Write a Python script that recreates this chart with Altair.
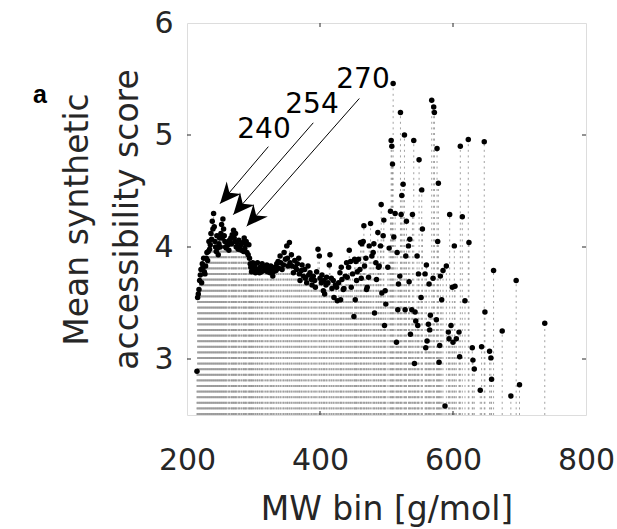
import altair as alt
import pandas as pd

# ---- data ----
mw = [215,216,217,218,219,220,221,222,223,224,225,226,227,228,229,230,231,232,233,234,235,236,237,238,239,240,
      241,242,243,244,245,246,247,248,249,250,251,252,253,254,255,256,257,258,259,260,262,263,264,266,267,268,269,270,
      271,272,273,274,275,277,278,279,281,282,284,285,286,287,288,289,290,292,293,294,295,296,297,298,299,300,
      302,303,305,306,307,309,310,312,313,314,316,318,320,321,323,325,326,327,329,330,332,334,335,337,338,340,
      341,343,345,346,348,350,351,352,354,355,357,358,360,362,363,365,366,368,369,370,372,373,375,377,378,380,
      382,383,385,387,388,390,392,393,395,397,399,400,402,403,405,406,407,409,410,412,414,415,417,418,420,
      421,423,425,426,428,430,431,432,433,435,436,438,440,441,443,444,446,447,449,451,452,453,454,455,456,458,460,
      461,462,463,465,466,467,469,470,471,473,474,476,478,480,481,482,484,485,487,488,489,491,492,493,495,496,497,498,499,
      502,504,506,507,508,509,510,511,513,515,516,517,518,520,521,522,523,525,527,528,529,530,533,534,535,536,538,539,
      541,542,543,544,546,547,548,549,552,553,554,558,559,560,561,563,564,565,566,568,570,571,572,575,576,577,578,579,580,581,583,585,
      588,590,593,594,595,597,599,600,602,603,605,609,610,611,614,618,623,624,629,630,632,641,643,647,648,655,657,658,
      661,674,687,695,700,738]
sa = [2.89,3.55,3.58,3.62,3.70,3.75,3.80,3.68,3.85,3.82,3.90,3.78,3.76,3.83,3.90,3.95,3.88,3.96,4.05,3.98,4.02,4.12,4.07,4.23,4.16,4.30,
      4.18,4.05,4.00,3.96,4.10,3.99,3.93,4.03,4.08,4.00,4.12,4.20,4.08,4.25,4.16,4.10,4.05,4.00,3.99,4.04,4.02,3.97,4.06,4.08,4.03,4.11,4.10,4.15,
      4.08,4.05,4.12,4.00,4.04,3.98,4.06,4.00,4.02,3.97,4.04,3.96,4.08,3.99,4.03,4.05,3.95,3.93,4.02,3.90,3.85,3.82,3.78,3.84,3.86,3.80,
      3.83,3.77,3.80,3.86,3.79,3.77,3.82,3.78,3.85,3.83,3.79,3.81,3.84,3.78,3.80,3.77,3.83,3.80,3.74,3.78,3.82,3.79,3.85,3.87,3.81,3.92,
      3.86,3.80,3.84,3.95,3.89,4.01,3.90,3.83,4.04,3.86,3.93,3.83,3.77,3.88,3.82,3.80,3.85,3.90,3.76,3.70,3.79,3.84,3.74,3.80,3.72,3.68,
      3.83,3.75,3.77,3.71,3.66,3.74,3.70,3.64,3.78,3.98,3.92,3.72,3.68,3.75,3.61,3.70,3.58,3.66,3.73,3.68,3.84,3.93,3.72,3.63,3.70,
      3.55,3.66,3.64,3.52,3.68,3.77,3.53,3.82,3.71,3.62,3.63,3.74,3.86,3.73,3.82,3.97,3.87,3.64,3.76,3.38,3.89,3.53,3.87,3.70,3.78,3.89,3.80,
      4.04,3.72,4.03,4.05,4.19,3.83,3.90,3.62,3.64,3.73,4.01,4.21,3.92,3.95,4.03,3.41,3.86,3.71,4.13,3.82,3.83,4.01,4.38,3.59,4.10,4.24,3.30,3.61,3.49,
      3.82,3.99,4.32,4.95,4.90,4.74,5.46,4.09,4.30,3.15,3.95,3.44,3.67,3.74,5.20,4.29,4.46,4.56,5.00,3.44,3.92,4.23,4.01,3.69,4.07,3.22,3.44,4.29,
      4.95,2.96,3.42,3.34,3.92,3.30,3.76,4.78,3.55,4.51,4.16,3.76,3.10,3.84,3.16,3.31,3.67,3.26,3.39,5.31,3.72,5.25,5.20,3.35,4.88,4.05,4.57,2.97,3.12,3.74,3.53,3.79,
      2.58,3.83,3.24,3.18,4.29,3.30,3.64,3.15,4.01,3.65,3.18,3.24,3.02,4.90,4.27,3.52,4.96,4.04,3.10,2.99,2.91,2.72,3.11,4.94,3.42,3.07,3.01,2.82,
      3.79,3.25,2.67,3.70,2.77,3.32]

ann_labels = ["240", "254", "270"]
ann_text_x = [315.8, 388.0, 464.7]
ann_text_y = [5.044, 5.267, 5.489]
ann_from_x = [322.3, 389.9, 459.1]
ann_from_y = [4.896, 5.109, 5.326]
ann_tip_x = [249.6, 269.6, 289.8]
ann_tip_y = [4.387, 4.289, 4.185]

x_ticks = [200, 400, 600, 800]
y_ticks = [3, 4, 5, 6]

FONT = "DejaVu Sans"
INK = "#262626"
W, H = 399, 392

df = pd.DataFrame({"mw": mw, "sa": sa})
df["base"] = 2.5
ann = pd.DataFrame({"label": ann_labels, "tx": ann_text_x, "ty": ann_text_y,
                    "fx": ann_from_x, "fy": ann_from_y, "px": ann_tip_x, "py": ann_tip_y})

xs = alt.Scale(domain=[200, 800], nice=False, zero=False)
ys = alt.Scale(domain=[2.5, 6], nice=False, zero=False)

x_axis = alt.Axis(values=x_ticks, labelFontSize=30, labelFont=FONT, labelColor=INK, tickSize=0, domain=False,
                  grid=False, labelPadding=30, labelFlush=False, labelOverlap=False,
                  title="MW bin [g/mol]", titleFontSize=33, titleFont=FONT,
                  titleColor=INK, titleFontWeight="normal", titlePadding=18)
y_axis = alt.Axis(values=y_ticks, format="d", labelFontSize=30, labelFont=FONT, labelColor=INK, tickSize=0,
                  domain=False, grid=False, labelPadding=14, labelFlush=False, labelOverlap=False,
                  title=["Mean synthetic", "accessibility score"], titleFontSize=33, titleFont=FONT,
                  titleColor=INK, titleFontWeight="normal", titleLineHeight=50, titleAngle=270,
                  titleAlign="center", titleBaseline="alphabetic", titleX=-100, titleY=H / 2)

stems = alt.Chart(df).mark_rule(color="#8a8a8a", strokeWidth=0.8, strokeDash=[2, 3.6]).encode(
    x=alt.X("mw:Q", scale=xs, axis=x_axis),
    y=alt.Y("base:Q", scale=ys, axis=y_axis),
    y2="sa:Q",
)
dots = alt.Chart(df).mark_point(filled=True, color="black", size=30, opacity=1).encode(
    x=alt.X("mw:Q", scale=xs), y=alt.Y("sa:Q", scale=ys)
)

arrow_lines = alt.Chart(ann).mark_rule(color="black", strokeWidth=1).encode(
    x=alt.X("fx:Q", scale=xs), y=alt.Y("fy:Q", scale=ys), x2="px:Q", y2="py:Q"
)
head_shape = "M0,0 L0.45,1 L0,0.68 L-0.45,1 Z"
arrow_heads = alt.Chart(ann).mark_point(shape=head_shape, filled=True, color="black", size=1800,
                                        angle=221, opacity=1).encode(
    x=alt.X("px:Q", scale=xs), y=alt.Y("py:Q", scale=ys)
)
ann_text = alt.Chart(ann).mark_text(font=FONT, fontSize=28, color="black", align="center",
                                    baseline="middle").encode(
    x=alt.X("tx:Q", scale=xs), y=alt.Y("ty:Q", scale=ys), text="label:N"
)

tick_df = pd.DataFrame({"xt": [400, 600]})
ytick_df = pd.DataFrame({"yt": [3, 4, 5]})
xt_bot = alt.Chart(tick_df).mark_rule(color=INK, strokeWidth=1).encode(
    x=alt.X("xt:Q", scale=xs), y=alt.value(H), y2=alt.value(H - 4))
xt_top = alt.Chart(tick_df).mark_rule(color=INK, strokeWidth=1).encode(
    x=alt.X("xt:Q", scale=xs), y=alt.value(0), y2=alt.value(4))
yt_left = alt.Chart(ytick_df).mark_rule(color=INK, strokeWidth=1).encode(
    y=alt.Y("yt:Q", scale=ys), x=alt.value(0), x2=alt.value(4))
yt_right = alt.Chart(ytick_df).mark_rule(color=INK, strokeWidth=1).encode(
    y=alt.Y("yt:Q", scale=ys), x=alt.value(W), x2=alt.value(W - 4))

panel = alt.Chart(pd.DataFrame({"t": ["a"]})).mark_text(font="Liberation Sans", fontSize=25, fontWeight="bold",
                                                         color="black", align="center", baseline="middle").encode(
    text="t:N", x=alt.value(-147), y=alt.value(72))

chart = alt.layer(stems, dots, arrow_lines, arrow_heads, ann_text, xt_bot, xt_top, yt_left, yt_right, panel).properties(
    width=W, height=H, autosize=alt.AutoSizeParams(type="none"),
    padding={"left": 187, "top": 23, "right": 31, "bottom": 114},
).configure_view(stroke=INK, strokeWidth=1).configure(background="white")

chart.save("out.html", embed_options={"renderer": "svg", "actions": False})
